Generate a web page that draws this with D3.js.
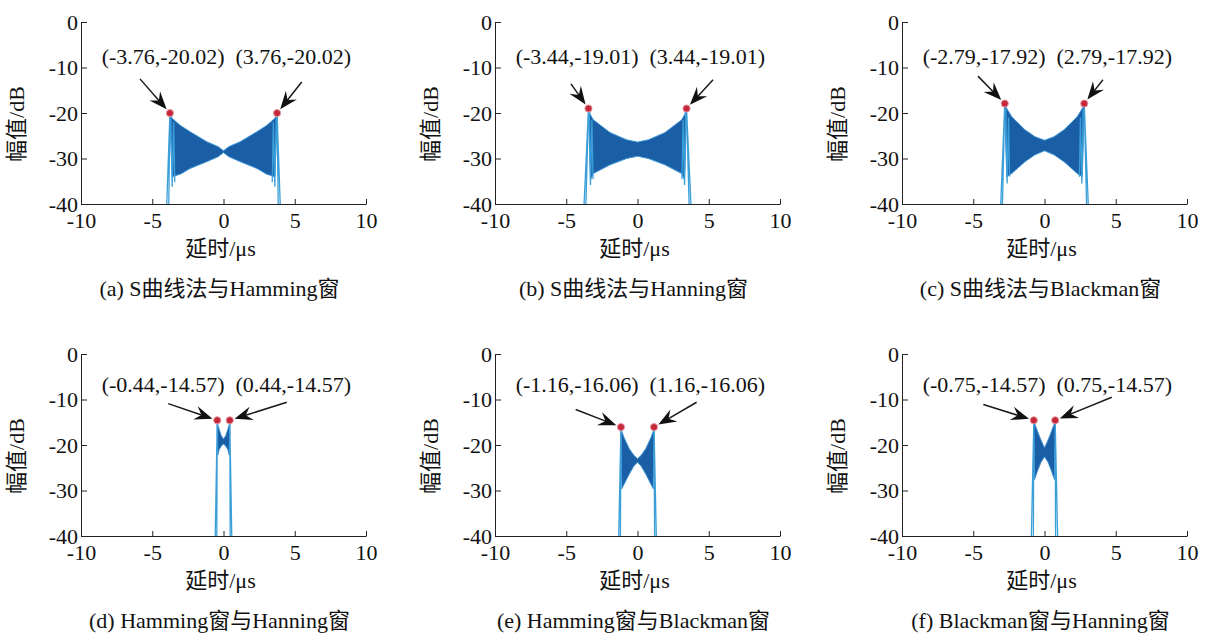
<!DOCTYPE html>
<html>
<head>
<meta charset="utf-8">
<script src="https://d3js.org/d3.v7.min.js"></script>
<style>
body { margin: 0; background: #fff; }
text { font-family: "Liberation Serif", "Times New Roman", "Noto Sans CJK SC", serif; fill: #111; }
</style>
</head>
<body>
<div id="chart"></div>
<script>
// captions of the six sub-figures
var captions = ["(a) S曲线法与Hamming窗", "(b) S曲线法与Hanning窗", "(c) S曲线法与Blackman窗",
                "(d) Hamming窗与Hanning窗", "(e) Hamming窗与Blackman窗", "(f) Blackman窗与Hanning窗"];
var xTicks = [-10, -5, 0, 5, 10];
var yTicks = [0, -10, -20, -30, -40];

// marked peaks (symmetric pair per panel)
var peakX = [3.76, 3.44, 2.79, 0.44, 1.16, 0.75];
var peakY = [-20.02, -19.01, -17.92, -14.57, -16.06, -14.57];

// envelope of the dense oscillating sidelobe band
var envX = [
  [-3.76, -3.6, -3.0, -2.35, -1.18, -0.37, 0, 0.37, 1.18, 2.35, 3.0, 3.6, 3.76],
  [-3.44, -3.3, -3.1, -1.93, -0.76, 0, 0.76, 1.93, 3.1, 3.3, 3.44],
  [-2.79, -2.65, -2.3, -1.37, -0.67, 0, 0.67, 1.37, 2.3, 2.65, 2.79],
  [-0.44, -0.4, -0.3, -0.15, 0, 0.15, 0.3, 0.4, 0.44],
  [-1.16, -1.1, -0.94, -0.58, -0.25, 0, 0.25, 0.58, 0.94, 1.1, 1.16],
  [-0.75, -0.7, -0.5, -0.25, 0, 0.25, 0.5, 0.7, 0.75]
];
var envUpper = [
  [-20.02, -21.2, -22.8, -24.1, -26.3, -27.4, -28.3, -27.4, -26.3, -24.1, -22.8, -21.2, -20.02],
  [-19.01, -20.4, -21.5, -24.3, -25.9, -26.4, -25.9, -24.3, -21.5, -20.4, -19.01],
  [-17.92, -19.0, -20.8, -23.7, -25.2, -26.0, -25.2, -23.7, -20.8, -19.0, -17.92],
  [-14.57, -15.5, -16.6, -18.0, -18.7, -18.0, -16.6, -15.5, -14.57],
  [-16.06, -17.0, -18.4, -20.8, -22.3, -23.0, -22.3, -20.8, -18.4, -17.0, -16.06],
  [-14.57, -15.2, -16.9, -18.9, -20.6, -18.9, -16.9, -15.2, -14.57]
];
var envLower = [
  [-22.0, -34.0, -33.4, -32.2, -30.7, -29.6, -28.7, -29.6, -30.7, -32.2, -33.4, -34.0, -22.0],
  [-21.0, -34.7, -33.3, -31.4, -30.0, -29.5, -30.0, -31.4, -33.3, -34.7, -21.0],
  [-20.0, -34.0, -33.3, -30.7, -29.2, -28.3, -29.2, -30.7, -33.3, -34.0, -20.0],
  [-16.0, -22.2, -21.0, -20.2, -19.8, -20.2, -21.0, -22.2, -16.0],
  [-17.5, -29.6, -28.6, -26.4, -24.6, -23.8, -24.6, -26.4, -28.6, -29.6, -17.5],
  [-16.0, -27.6, -25.8, -23.8, -22.6, -23.8, -25.8, -27.6, -16.0]
];

// main-lobe edges and outer spikes, as [x, dB] polylines
var edgeLines = [
  [[[-3.98, -40], [-3.76, -20.02], [-3.84, -40]], [[3.98, -40], [3.76, -20.02], [3.84, -40]],
   [[-3.7, -21], [-3.6, -36.2], [-3.5, -22], [-3.42, -35.2]], [[3.7, -21], [3.6, -36.2], [3.5, -22], [3.42, -35.2]]],
  [[[-3.75, -40], [-3.44, -19.01], [-3.62, -40]], [[3.75, -40], [3.44, -19.01], [3.62, -40]],
   [[-3.38, -20], [-3.3, -35.8], [-3.2, -21.5], [-3.12, -34.5]], [[3.38, -20], [3.3, -35.8], [3.2, -21.5], [3.12, -34.5]]],
  [[[-3.07, -40], [-2.79, -17.92], [-2.95, -40]], [[3.07, -40], [2.79, -17.92], [2.95, -40]],
   [[-2.72, -19], [-2.62, -35.5], [-2.52, -21], [-2.45, -34]], [[2.72, -19], [2.62, -35.5], [2.52, -21], [2.45, -34]]],
  [[[-0.58, -40], [-0.44, -14.57], [-0.47, -40]], [[0.58, -40], [0.44, -14.57], [0.47, -40]]],
  [[[-1.32, -40], [-1.16, -16.06], [-1.2, -40]], [[1.32, -40], [1.16, -16.06], [1.2, -40]]],
  [[[-0.92, -40], [-0.75, -14.57], [-0.78, -40]], [[0.92, -40], [0.75, -14.57], [0.78, -40]]]
];

// arrow tails (data units): [left x, left dB, right x, right dB]
var arrowTails = [
  [-5.86, -12.5, 5.49, -13.2],
  [-4.67, -13.6, 5.3, -12.7],
  [-4.67, -11.9, 4.1, -12.7],
  [-3.88, -10.9, 4.44, -10.6],
  [-4.34, -12.2, 4.15, -10.6],
  [-4.29, -11.1, 4.72, -9.5]
];
var labelDb = [-9.3, -9.3, -9.3, -8.4, -8.4, -8.4];

var W = 1214, H = 636;
var colLeft = [81, 495, 902], rowTop = [22, 354];
var pw = 285, ph = 182;
var fs = 22;

var svg = d3.select("#chart").append("svg")
    .attr("width", W).attr("height", H)
    .attr("xmlns", "http://www.w3.org/2000/svg");

function plain(d) { return String(d); }

captions.forEach(function(cap, i) {
  var ox = colLeft[i % 3], oy = rowTop[Math.floor(i / 3)];
  var g = svg.append("g").attr("transform", "translate(" + ox + "," + oy + ")");

  var x = d3.scaleLinear().domain([-10, 10]).range([0, pw]);
  var y = d3.scaleLinear().domain([-40, 0]).range([ph, 0]);

  // signal band
  var pts = envX[i].map(function(v, k) { return [v, envUpper[i][k], envLower[i][k]]; });
  g.append("path")
      .datum(pts)
      .attr("d", d3.area().x(function(d) { return x(d[0]); })
                          .y0(function(d) { return y(d[2]); })
                          .y1(function(d) { return y(d[1]); }))
      .attr("fill", "#1a5ea6")
      .attr("stroke", "#3f95d4")
      .attr("stroke-width", 1);

  var line = d3.line().x(function(d) { return x(d[0]); }).y(function(d) { return y(d[1]); });
  g.selectAll("path.edge")
      .data(edgeLines[i])
    .enter().append("path")
      .attr("class", "edge")
      .attr("d", line)
      .attr("fill", "none")
      .attr("stroke", "#3a9fd9")
      .attr("stroke-width", 1.3);

  // axes
  var ya = g.append("g")
      .call(d3.axisLeft(y).tickValues(yTicks).tickFormat(plain)
              .tickSize(-6).tickSizeOuter(0).tickPadding(3));
  var xa = g.append("g").attr("transform", "translate(0," + ph + ")")
      .call(d3.axisBottom(x).tickValues(xTicks).tickFormat(plain)
              .tickSize(-5).tickSizeOuter(0).tickPadding(8));
  [ya, xa].forEach(function(a) {
    a.attr("font-size", fs).attr("font-family", null).attr("color", "#222");
    a.selectAll("path, line").attr("stroke-width", 1);
  });

  // peak markers, arrows, labels
  var cx = x(0);
  [-1, 1].forEach(function(s) {
    var px = x(s * peakX[i]), py = y(peakY[i]);
    var t = arrowTails[i];
    var tx = x(s < 0 ? t[0] : t[2]), ty = y(s < 0 ? t[1] : t[3]);
    var dx = px - tx, dy = py - ty, len = Math.sqrt(dx * dx + dy * dy);
    var ux = dx / len, uy = dy / len, nx = -uy, ny = ux;
    var tipX = px - 5 * ux, tipY = py - 5 * uy;
    var L = 18, hw = 7;
    g.append("line")
        .attr("x1", tx).attr("y1", ty)
        .attr("x2", tipX - 0.6 * L * ux).attr("y2", tipY - 0.6 * L * uy)
        .attr("stroke", "#1a1a1a").attr("stroke-width", 1.5);
    g.append("path")
        .attr("d", "M" + tipX + "," + tipY +
                   "L" + (tipX - L * ux + hw * nx) + "," + (tipY - L * uy + hw * ny) +
                   "L" + (tipX - 0.65 * L * ux) + "," + (tipY - 0.65 * L * uy) +
                   "L" + (tipX - L * ux - hw * nx) + "," + (tipY - L * uy - hw * ny) + "Z")
        .attr("fill", "#111");
    g.append("circle")
        .attr("cx", px).attr("cy", py).attr("r", 3.6)
        .attr("fill", "#c4283a")
        .attr("stroke", "#e79aa3").attr("stroke-width", 1);
    var lbl = "(" + (s < 0 ? "-" : "") + peakX[i].toFixed(2) + "," + peakY[i].toFixed(2) + ")";
    g.append("text")
        .attr("x", s < 0 ? cx + 1 : cx + 12)
        .attr("y", y(labelDb[i]))
        .attr("text-anchor", s < 0 ? "end" : "start")
        .attr("font-size", fs)
        .text(lbl);
  });

  // axis titles and caption
  g.append("text")
      .attr("transform", "translate(-57," + (ph / 2 + 11) + ")rotate(-90)")
      .attr("text-anchor", "middle")
      .attr("font-size", fs)
      .text("幅值/dB");
  g.append("text")
      .attr("x", cx - 3).attr("y", ph + 52)
      .attr("text-anchor", "middle")
      .attr("font-size", fs)
      .text("延时/μs");
  g.append("text")
      .attr("x", cx - 4).attr("y", ph + 92)
      .attr("text-anchor", "middle")
      .attr("font-size", fs)
      .text(cap);
});
</script>
</body>
</html>
